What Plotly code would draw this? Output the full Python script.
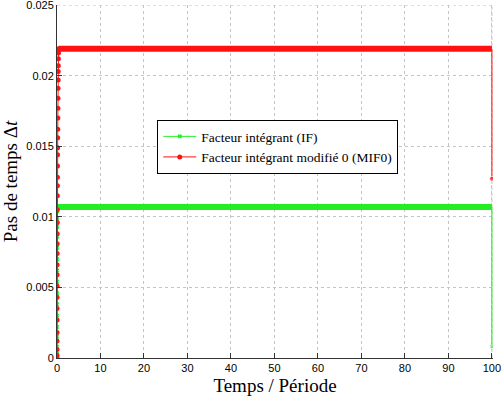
import numpy as np
import plotly.graph_objects as go

# Time-step sizes
red_ramp = [0, 0.0002, 0.0006, 0.0012, 0.0018, 0.0027, 0.0035, 0.0043, 0.0051, 0.0059,
            0.0066, 0.0074, 0.0081, 0.0088, 0.0096, 0.0105, 0.0115, 0.0122, 0.0128, 0.0136,
            0.0144, 0.0149, 0.0156, 0.0162, 0.0170, 0.0177, 0.0184, 0.0191, 0.0197, 0.0203,
            0.0207, 0.0212, 0.0216, 0.0219]
red_plateau = 0.0219
red_last = 0.0127

green_ramp = [0, 0.0003, 0.0008, 0.0015, 0.0022, 0.0030, 0.0038, 0.0046, 0.0054, 0.0062,
              0.0070, 0.0078, 0.0086, 0.0093, 0.0099, 0.0104, 0.0107]
green_plateau = 0.0107
green_last = 0.0008

t_end = 100
x_ticks = [0, 10, 20, 30, 40, 50, 60, 70, 80, 90, 100]
y_ticks = [0, 0.005, 0.01, 0.015, 0.02, 0.025]
y_tick_text = ["0", "0.005", "0.01", "0.015", "0.02", "0.025"]

names = ["Facteur intégrant (IF)", "Facteur intégrant modifié 0 (MIF0)"]
colors = ["#22ee22", "#ff1111"]

fig = go.Figure()

grid_color = "#c4c4c4"
fig.add_shape(type="line", xref="x", yref="y", x0=0, x1=x_ticks[-1], y0=y_ticks[-1], y1=y_ticks[-1],
              line=dict(color=grid_color, width=1, dash="dot"), layer="below")
fig.add_shape(type="line", xref="x", yref="y", x0=x_ticks[-1], x1=x_ticks[-1], y0=0, y1=y_ticks[-1],
              line=dict(color=grid_color, width=1, dash="dot"), layer="below")

def add_series(ramp, plateau, last, name, color, symbol, msize):
    t_ramp = np.concatenate([[0], np.cumsum(ramp[:-1])])
    fig.add_trace(go.Scatter(x=t_ramp, y=ramp, mode="lines+markers", name=name,
                             legendgroup=name, line=dict(color=color, width=1),
                             marker=dict(symbol=symbol, size=msize, color=color)))
    fig.add_trace(go.Scatter(x=[t_ramp[-1], t_end], y=[plateau, plateau], mode="lines",
                             legendgroup=name, showlegend=False,
                             line=dict(color=color, width=6)))
    fig.add_trace(go.Scatter(x=[t_end, t_end], y=[plateau, last], mode="lines+markers",
                             legendgroup=name, showlegend=False,
                             line=dict(color=color, width=1),
                             marker=dict(symbol=symbol, size=[0, msize], color=color)))

add_series(green_ramp, green_plateau, green_last, names[0], colors[0], "x", 4)
add_series(red_ramp, red_plateau, red_last, names[1], colors[1], "circle", 5)

sans = "Liberation Sans, Arial, Helvetica, sans-serif"
serif = "Liberation Serif, Times New Roman, serif"

axis_common = dict(showline=True, linecolor="#333333", linewidth=1, mirror=False,
                   ticks="inside", ticklen=5, tickcolor="#333333",
                   showgrid=True, gridcolor=grid_color, griddash="dot", gridwidth=1,
                   zeroline=False, ticklabeloverflow="allow", automargin=False,
                   tickfont=dict(family=sans, size=11, color="black"))

fig.update_xaxes(range=[0, 100.25], tickvals=x_ticks, **axis_common,
                 title=dict(text="Temps / Période",
                            font=dict(family=serif, size=19, color="black")))
fig.update_yaxes(range=[0, 0.025005], tickvals=y_ticks, ticktext=y_tick_text, **axis_common,
                 title=dict(text="Pas de temps Δ<i>t</i>",
                            font=dict(family=serif, size=19, color="black")))

fig.update_layout(
    width=502, height=396,
    margin=dict(l=57, r=9, t=5, b=38, autoexpand=False),
    plot_bgcolor="white", paper_bgcolor="white",
    legend=dict(x=0.23, y=0.674, xanchor="left", yanchor="top",
                bgcolor="white", bordercolor="black", borderwidth=1,
                font=dict(family=serif, size=13.5, color="black"),
                tracegroupgap=0, itemwidth=33),
)

fig.write_html("out.html")
